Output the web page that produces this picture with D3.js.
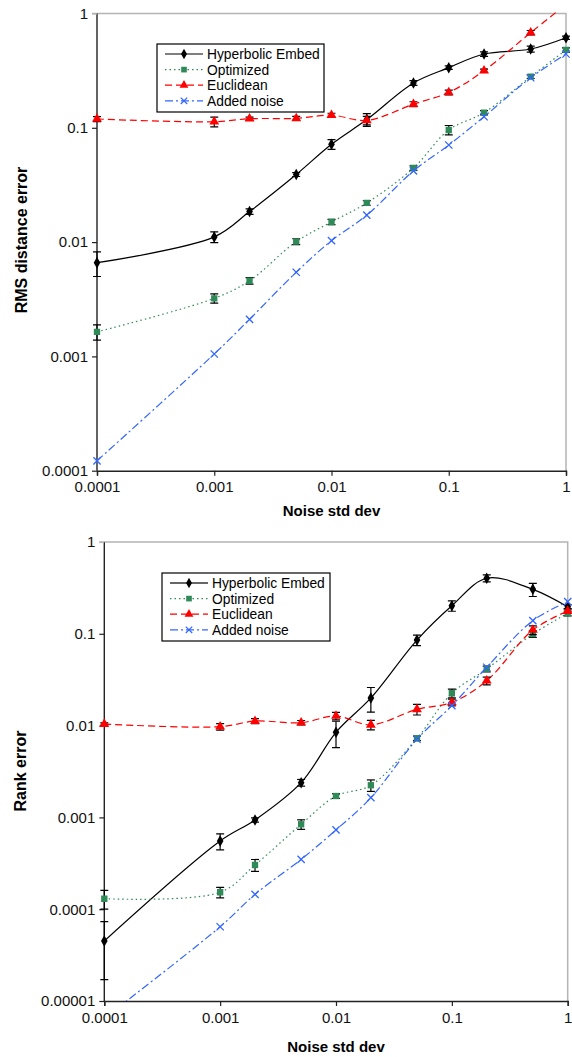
<!DOCTYPE html>
<html>
<head>
<meta charset="utf-8">
<script src="https://cdn.jsdelivr.net/npm/d3@7"></script>
<style>
body{margin:0;background:#fff}
svg{display:block;font-family:"Liberation Sans",Arial,sans-serif}
</style>
</head>
<body>
<div class="charts"></div>
<script>
// x values shared by both panels
const noise = [0.0001, 0.001, 0.002, 0.005, 0.01, 0.02, 0.05, 0.1, 0.2, 0.5, 1]
const seriesNames = ["Hyperbolic Embed", "Optimized", "Euclidean", "Added noise"]
const xTickLabels = ["0.0001", "0.001", "0.01", "0.1", "1"]

// panel 1 : RMS distance error
const rmsTickLabels = ["0.0001", "0.001", "0.01", "0.1", "1"]
const rmsHyperbolic = [0.0066, 0.0111, 0.0185, 0.039, 0.0718, 0.118, 0.247, 0.336, 0.442, 0.489, 0.614]
const rmsHyperbolicErr = [0.0016, 0.0012, 0.001, 0.0015, 0.007, 0.015, 0.012, 0.012, 0.02, 0.03, 0.02]
const rmsOptimized = [0.00164, 0.00322, 0.00459, 0.0101, 0.015, 0.022, 0.0445, 0.0957, 0.1356, 0.28, 0.48]
const rmsOptimizedErr = [0.00025, 0.0003, 0.0003, 0.0006, 0.0008, 0.001, 0.002, 0.009, 0.006, 0.01, 0.02]
const rmsEuclidean = [0.1194, 0.113, 0.12, 0.121, 0.129, 0.116, 0.161, 0.204, 0.316, 0.68, 1.2]
const rmsEuclideanErr = [0.006, 0.011, 0.004, 0.005, 0.005, 0.01, 0.008, 0.01, 0.01, 0.03, 0.05]
const rmsNoise = [0.000122, 0.00105, 0.00211, 0.00545, 0.0103, 0.0172, 0.042, 0.0707, 0.125, 0.274, 0.442]

// panel 2 : rank error
const rankTickLabels = ["0.00001", "0.0001", "0.001", "0.01", "0.1", "1"]
const rankHyperbolic = [0.0000451, 0.000553, 0.000938, 0.00239, 0.00845, 0.02, 0.0855, 0.202, 0.403, 0.305, 0.197]
const rankHyperbolicErr = [0.000028, 0.00011, 0.00005, 0.0002, 0.0027, 0.006, 0.011, 0.026, 0.035, 0.05, 0.01]
const rankOptimized = [0.00013, 0.000153, 0.000303, 0.000841, 0.00171, 0.00224, 0.00727, 0.0225, 0.0414, 0.0995, 0.167]
const rankOptimizedErr = [0.00003, 0.00002, 0.000045, 0.0001, 0.0001, 0.00032, 0.0004, 0.0025, 0.003, 0.008, 0.01]
const rankEuclidean = [0.0104, 0.00973, 0.0112, 0.01076, 0.01273, 0.0102, 0.01505, 0.0179, 0.0308, 0.11, 0.177]
const rankEuclideanErr = [0.0003, 0.0008, 0.0007, 0.0006, 0.0012, 0.0012, 0.002, 0.0015, 0.003, 0.012, 0.01]
const rankNoise = [0.0000065, 0.0000644, 0.000145, 0.000349, 0.00073, 0.00164, 0.0071, 0.0165, 0.0432, 0.139, 0.224]

const styles = [
  {color:"#000", dash:null, symbol:d3.symbolDiamond, size:38, fill:true},
  {color:"#2e8b57", dash:"1.5,3", symbol:d3.symbolSquare, size:40, fill:true},
  {color:"#ff0000", dash:"7,4", symbol:d3.symbolTriangle, size:42, fill:true},
  {color:"#3366ff", dash:"8,3,2,3", symbol:d3.symbolTimes || d3.symbolX, size:36, fill:false}
]

const svg = d3.select(".charts").append("svg").attr("width",572).attr("height",1057)

function drawPanel(p){
  const x = d3.scaleLog().domain([0.0001,1]).range([p.left,p.right])
  const y = d3.scaleLog().domain([+p.yLabels[0],1]).range([p.bottom,p.top])
  const g = svg.append("g")

  // grey frame top / right
  g.append("path")
    .attr("d",`M${p.left-5},${p.top}H${p.right}V${p.bottom}`)
    .attr("fill","none").attr("stroke","#b4b4b4").attr("stroke-width",1.5)

  const xAxis = d3.axisBottom(x).tickValues(xTickLabels.map(Number))
    .tickFormat((d,i)=>xTickLabels[i]).tickSize(5).tickPadding(6)
  const yAxis = d3.axisLeft(y).tickValues(p.yLabels.map(Number))
    .tickFormat((d,i)=>p.yLabels[i]).tickSize(5).tickPadding(4)

  const gx = g.append("g").attr("transform",`translate(0,${p.bottom})`).call(xAxis)
  const gy = g.append("g").attr("transform",`translate(${p.left},0)`).call(yAxis)
  for(const ax of [gx,gy]){
    ax.select(".domain").attr("stroke","#222").attr("stroke-width",1.4)
    ax.selectAll(".tick line").attr("stroke","#222").attr("stroke-width",1.2)
    ax.selectAll(".tick text").attr("font-size",15).attr("fill","#111").attr("font-family","Liberation Sans, Arial, sans-serif")
  }
  gy.select(".domain").attr("d",`M0,${p.bottom}V${p.top}`)
  gy.selectAll(".tick").filter(d=>d===1).select("line").attr("stroke","#b4b4b4")

  g.append("text").attr("x",(p.left+p.right)/2).attr("y",p.xTitleY)
    .attr("text-anchor","middle").attr("font-weight","bold").attr("font-size",15)
    .text("Noise std dev")
  g.append("text").attr("transform",`translate(${p.yTitleX},${p.yTitleMid}) rotate(-90)`)
    .attr("text-anchor","middle").attr("font-weight","bold").attr("font-size",16)
    .text(p.yTitle)

  const clipId = "clip"+p.id
  g.append("clipPath").attr("id",clipId).append("rect")
    .attr("x",p.left-5).attr("y",p.top-2).attr("width",p.right-p.left+10).attr("height",p.bottom-p.top+2)
  const plot = g.append("g").attr("clip-path",`url(#${clipId})`)
  const plotClip = "clipp"+p.id
  g.append("clipPath").attr("id",plotClip).append("rect")
    .attr("x",p.left).attr("y",p.top-2).attr("width",p.right-p.left+1).attr("height",p.bottom-p.top+2)

  const line = d3.line().x(d=>x(d[0])).y(d=>y(d[1])).curve(d3.curveCatmullRom.alpha(0.5))

  p.series.forEach((s,k)=>{
    const st = styles[k]
    const pts = noise.map((n,i)=>[n,s.values[i]])
    plot.append("path").datum(pts).attr("d",line)
      .attr("clip-path",`url(#${plotClip})`)
      .attr("fill","none").attr("stroke",st.color).attr("stroke-width",1.2)
      .attr("stroke-dasharray",st.dash)
    if(s.err){
      const eb = plot.append("g").attr("stroke","#000").attr("stroke-width",1.2)
      noise.forEach((n,i)=>{
        const v = s.values[i], e = s.err[i]
        if(v>1) return
        const lo = Math.max(v-e, +p.yLabels[0]), hi = v+e
        const cx = x(n)
        eb.append("line").attr("x1",cx).attr("x2",cx).attr("y1",y(lo)).attr("y2",y(hi))
        eb.append("line").attr("x1",cx-4).attr("x2",cx+4).attr("y1",y(lo)).attr("y2",y(lo))
        eb.append("line").attr("x1",cx-4).attr("x2",cx+4).attr("y1",y(hi)).attr("y2",y(hi))
      })
    }
    plot.append("g").selectAll("path").data(pts.filter(d=>d[1]<=1 && d[1]>=+p.yLabels[0]*0.99)).join("path")
      .attr("transform",d=>`translate(${x(d[0])},${y(d[1])})`)
      .attr("d",d3.symbol().type(st.symbol).size(st.size))
      .attr("fill",st.fill?st.color:"none")
      .attr("stroke",st.fill?"none":st.color).attr("stroke-width",1.3)
  })

  // legend
  const L = p.legend
  const lg = g.append("g")
  lg.append("rect").attr("x",L.x).attr("y",L.y).attr("width",L.w).attr("height",L.h)
    .attr("fill","#fff").attr("stroke","#000").attr("stroke-width",1.2)
  seriesNames.forEach((name,k)=>{
    const st = styles[k]
    const ly = L.y + 10 + k*15.6
    lg.append("line").attr("x1",L.x+8).attr("x2",L.x+46).attr("y1",ly).attr("y2",ly)
      .attr("stroke",k===0 && L.greyFirst ? "#666" : st.color)
      .attr("stroke-width",k===0 && L.greyFirst ? 2 : 1.2)
      .attr("stroke-dasharray",st.dash)
    lg.append("path").attr("transform",`translate(${L.x+27},${ly})`)
      .attr("d",d3.symbol().type(st.symbol).size(st.size*0.8))
      .attr("fill",st.fill?st.color:"none")
      .attr("stroke",st.fill?"none":st.color).attr("stroke-width",1.2)
    lg.append("text").attr("x",L.x+50).attr("y",ly+5).attr("font-size",13.8).text(name)
  })
}

drawPanel({
  id:1, left:97, right:566, top:13.5, bottom:470.7,
  yLabels:rmsTickLabels, yTitle:"RMS distance error", yTitleX:27, yTitleMid:240, xTitleY:516,
  legend:{x:157, y:44, w:167, h:68, greyFirst:false},
  series:[
    {values:rmsHyperbolic, err:rmsHyperbolicErr},
    {values:rmsOptimized, err:rmsOptimizedErr},
    {values:rmsEuclidean, err:rmsEuclideanErr},
    {values:rmsNoise, err:null}
  ]
})

drawPanel({
  id:2, left:104.3, right:567.7, top:542, bottom:1001,
  yLabels:rankTickLabels, yTitle:"Rank error", yTitleX:26, yTitleMid:771, xTitleY:1052,
  legend:{x:162, y:573, w:168, h:68, greyFirst:true},
  series:[
    {values:rankHyperbolic, err:rankHyperbolicErr},
    {values:rankOptimized, err:rankOptimizedErr},
    {values:rankEuclidean, err:rankEuclideanErr},
    {values:rankNoise, err:null}
  ]
})
</script>
</body>
</html>
